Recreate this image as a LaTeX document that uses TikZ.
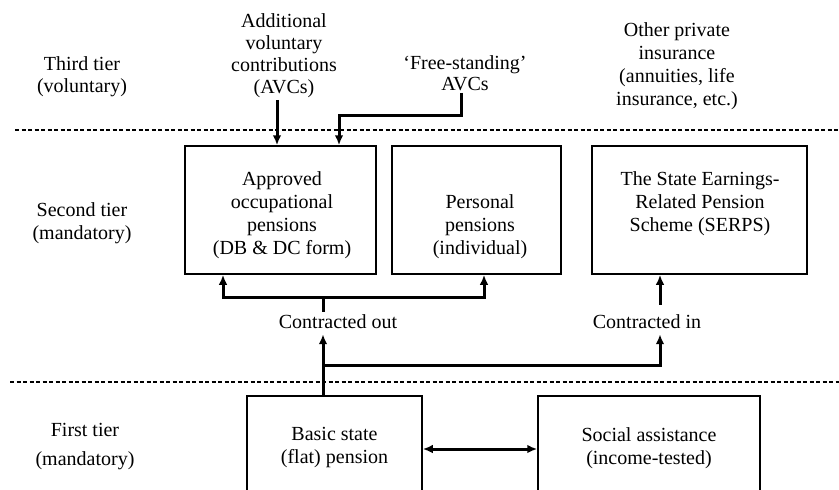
\documentclass[tikz,border=0pt]{standalone}
\usepackage{fontspec}
\setmainfont{Liberation Serif}
\usetikzlibrary{arrows.meta,calc}
\begin{document}
\begin{tikzpicture}[x=1pt,y=-1pt,
  box/.style={draw,line width=1.5pt,inner sep=0pt,align=center,font=\fontsize{20}{23}\selectfont},
  txt/.style={align=center,inner sep=2pt,font=\fontsize{20}{23}\selectfont},
  lbl/.style={inner sep=2pt,font=\fontsize{20}{24}\selectfont,text height=14pt,text depth=4pt},
  arr/.style={line width=3pt,-{Latex[length=10pt,width=8.5pt]}},
  thk/.style={line width=3pt},
  darr/.style={line width=3pt,{Latex[length=10pt,width=8.5pt]}-{Latex[length=10pt,width=8.5pt]}},
  tierline/.style={line width=1.3pt,dash pattern=on 4pt off 2.5pt}]
\useasboundingbox (0,0) rectangle (839,490);
\clip (0,0) rectangle (839,490);
\fill[white] (0,0) rectangle (839,490);

% tier separators
\draw[tierline] (15,130) -- (839,130);
\draw[tierline] (10,382) -- (839,382);

% tier labels
\node[txt,font=\fontsize{20}{22}\selectfont] (third) at (82,77) {Third tier\\(voluntary)};
\node[txt,font=\fontsize{20}{23}\selectfont] (second) at (82,223.5) {Second tier\\(mandatory)};
\node[txt,font=\fontsize{20}{29}\selectfont] (first) at (85,446.5) {First tier\\(mandatory)};

% third tier texts
\node[txt,font=\fontsize{20}{22}\selectfont] (avc) at (284,55.5) {Additional\\voluntary\\contributions\\(AVCs)};
\node[txt,font=\fontsize{20}{21}\selectfont] (fs) at (465,73) {‘Free-standing’\\AVCs};
\node[txt] (other) at (677,66) {Other private\\insurance\\(annuities, life\\insurance, etc.)};

% second tier boxes
\node[box,minimum width=191pt,minimum height=128pt] (occ) at (280.5,210) {};
\node[box,minimum width=169pt,minimum height=128pt] (pers) at (476.5,210) {};
\node[box,minimum width=215pt,minimum height=128pt] (serps) at (699.5,210) {};
\node[txt] (occT) at (282,215) {Approved\\occupational\\pensions\\(DB \& DC form)};
\node[txt] (persT) at (480,226.5) {Personal\\pensions\\(individual)};
\node[txt] (serpsT) at (700,204) {The State Earnings-\\Related Pension\\Scheme (SERPS)};

% first tier boxes
\node[box,minimum width=175pt,minimum height=104pt] (basic) at (334.5,448) {Basic state\\(flat) pension};
\node[box,minimum width=222pt,minimum height=104pt] (social) at (649,448) {Social assistance\\(income-tested)};

% contract labels
\node[lbl] (co) at (338,323) {Contracted out};
\node[lbl] (ci) at (647,323) {Contracted in};

% connectors: third tier
\draw[arr] ([xshift=-7pt]avc.south) -- ([xshift=-7pt]avc.south |- occ.north);
\coordinate (fsbend) at (339,115);
\draw[arr] ([xshift=-4pt]fs.south) |- (fsbend) -- (fsbend |- occ.north);

% contracted out
\coordinate (cobar) at (323,297);
\draw[thk] ([xshift=-15pt]co.north) -- (cobar);
\draw[arr] (cobar) -| ([xshift=-57.5pt]occ.south);
\draw[arr] (cobar) -| ([xshift=7.5pt]pers.south);

% contracted in
\draw[arr] ([xshift=13pt,yshift=7pt]ci.north) -- ([xshift=13pt]ci.north |- serps.south);

% from basic state
\draw[arr] ([xshift=-11.5pt]basic.north) -- ([xshift=-11.5pt]basic.north |- co.south);
\coordinate (cijoin) at (323,365);
\draw[arr] (cijoin) -| ([xshift=13pt]ci.south);

% basic <-> social
\coordinate (dy) at (0,449);
\draw[darr] (basic.east |- dy) -- (social.west |- dy);
\end{tikzpicture}
\end{document}
